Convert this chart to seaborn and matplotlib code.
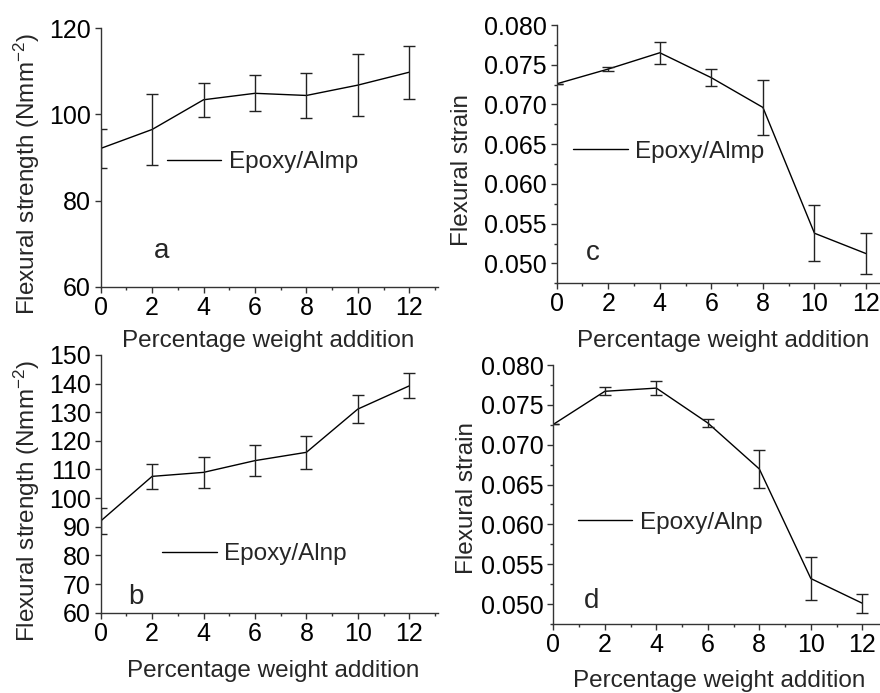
import numpy as np
import pandas as pd
import matplotlib
matplotlib.use("Agg")
import matplotlib.pyplot as plt
from matplotlib.ticker import MultipleLocator
import seaborn as sns

# ---- data ----
x_pct = [0, 2, 4, 6, 8, 10, 12]

strength_mp = [92.1, 96.5, 103.4, 104.9, 104.4, 106.8, 109.8]
strength_mp_err = [4.6, 8.3, 3.9, 4.2, 5.2, 7.2, 6.2]

strength_np = [92.0, 107.6, 109.0, 113.1, 116.0, 131.1, 139.2]
strength_np_err = [4.6, 4.4, 5.4, 5.3, 5.7, 5.0, 4.4]

strain_mp = [0.0726, 0.07446, 0.07651, 0.07337, 0.06963, 0.0538, 0.05124]
strain_mp_err = [0.0, 0.0003, 0.0014, 0.0011, 0.0035, 0.0035, 0.0026]

strain_np = [0.07255, 0.0767, 0.0771, 0.07272, 0.06695, 0.0532, 0.0501]
strain_np_err = [0.0, 0.0005, 0.0009, 0.0005, 0.0024, 0.0027, 0.0012]

xlabel_text = "Percentage weight addition"
ylabel_strength = "Flexural strength (Nmm$^{-2}$)"
ylabel_strain = "Flexural strain"
legend_mp = "Epoxy/Almp"
legend_np = "Epoxy/Alnp"

sns.set_style("ticks")
plt.rcParams["font.family"] = ["Liberation Sans", "DejaVu Sans"]
plt.rcParams["mathtext.fontset"] = "custom"
plt.rcParams["mathtext.rm"] = "Liberation Sans"
plt.rcParams["mathtext.it"] = "Liberation Sans"

fig = plt.figure(figsize=(8.8, 6.93), dpi=100)

panels = [
    dict(rect=[0.1144, 0.5863, 0.3828, 0.3729], y=strength_mp, e=strength_mp_err, lab=legend_mp, let="a",
         ylim=(60, 120), major=20, minor=None, ylab=ylabel_strength, leg=(0.196, 0.481), letpos=(0.18, 0.138),
         ylc=(-0.174, 0.436), xlc=(0.496, -0.169), xmax=13.1, fmt="{:.0f}"),
    dict(rect=[0.1144, 0.1159, 0.3828, 0.3719], y=strength_np, e=strength_np_err, lab=legend_np, let="b",
         ylim=(60, 150), major=10, minor=None, ylab=ylabel_strength, leg=(0.1815, 0.2266), letpos=(0.105, 0.062),
         ylc=(-0.174, 0.433), xlc=(0.511, -0.185), xmax=13.1, fmt="{:.0f}"),
    dict(rect=[0.6326, 0.5912, 0.3808, 0.3727], y=strain_mp, e=strain_mp_err, lab=legend_mp, let="c",
         ylim=(0.0475, 0.080), major=0.005, minor=0.0025, ylab=ylabel_strain, leg=(0.0486, 0.5095), letpos=(0.108, 0.117),
         ylc=(-0.25, 0.439), xlc=(0.498, -0.182), xmax=13.0, fmt="{:.3f}"),
    dict(rect=[0.6288, 0.0996, 0.3804, 0.3737], y=strain_np, e=strain_np_err, lab=legend_np, let="d",
         ylim=(0.0475, 0.080), major=0.005, minor=0.0025, ylab=ylabel_strain, leg=(0.0729, 0.391), letpos=(0.115, 0.09),
         ylc=(-0.225, 0.486), xlc=(0.495, -0.179), xmax=13.0, fmt="{:.3f}"),
]

for p in panels:
    ax = fig.add_axes(p["rect"])
    df = pd.DataFrame({"x": x_pct, "y": p["y"]})
    sns.lineplot(data=df, x="x", y="y", ax=ax, color="black", linewidth=1.0, label=p["lab"])
    ax.errorbar(x_pct, p["y"], yerr=p["e"], fmt="none", ecolor="#222222", elinewidth=1.0,
                capsize=4, capthick=1.0, label="_nolegend_")
    ax.set_xlim(0, p["xmax"])
    ax.set_ylim(*p["ylim"])
    ax.xaxis.set_major_locator(MultipleLocator(2))
    ax.xaxis.set_minor_locator(MultipleLocator(1))
    ax.yaxis.set_major_locator(MultipleLocator(p["major"]))
    if p["minor"]:
        ax.yaxis.set_minor_locator(MultipleLocator(p["minor"]))
    ax.set_yticks([v for v in ax.get_yticks() if p["ylim"][0] - 1e-9 <= v <= p["ylim"][1] + 1e-9])
    ax.set_yticklabels([p["fmt"].format(v) for v in ax.get_yticks()])
    sns.despine(ax=ax)
    for s in ["left", "bottom"]:
        ax.spines[s].set_linewidth(1.0)
        ax.spines[s].set_color("#333333")
    ax.tick_params(axis="both", which="major", direction="out", length=4.5, width=1.0,
                   labelsize=18, colors="#333333", labelcolor="black")
    ax.tick_params(axis="x", which="major", pad=2)
    ax.tick_params(axis="y", which="major", pad=2.5)
    ax.tick_params(axis="both", which="minor", direction="out", length=2.5, width=1.0, colors="#333333")
    ax.set_xlabel(xlabel_text, fontsize=17.5)
    ax.set_ylabel(p["ylab"], fontsize=17.5)
    ax.xaxis.set_label_coords(*p["xlc"])
    ax.yaxis.set_label_coords(*p["ylc"])
    ax.legend(loc="center left", bbox_to_anchor=p["leg"], frameon=False, fontsize=17.5,
              handlelength=2.25, handletextpad=0.3, borderpad=0, borderaxespad=0)
    ax.text(p["letpos"][0], p["letpos"][1], p["let"], transform=ax.transAxes, fontsize=20,
            ha="center", va="center")
    ax.patch.set_alpha(0)

fig.savefig("out.png", dpi=100)
